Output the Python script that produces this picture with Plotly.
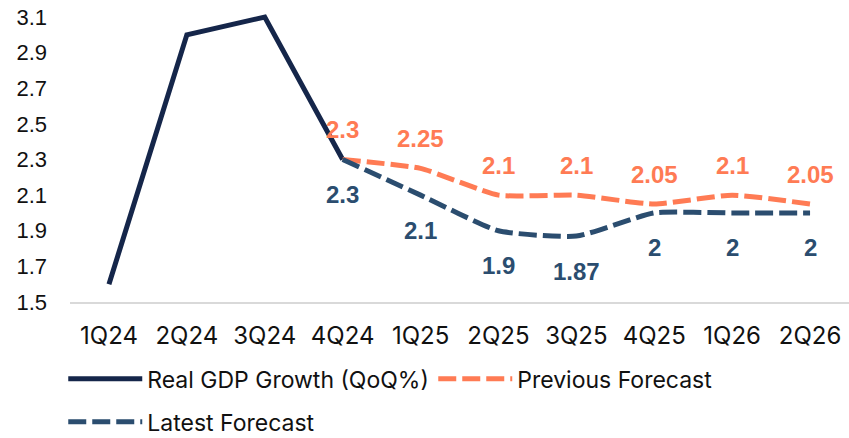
import plotly.graph_objects as go

# Quarters on the x axis
quarters = ["1Q24", "2Q24", "3Q24", "4Q24", "1Q25", "2Q25", "3Q25", "4Q25", "1Q26", "2Q26"]

# Actual real GDP growth (QoQ %)
actual_q = ["1Q24", "2Q24", "3Q24", "4Q24"]
actual_vals = [1.6, 3.0, 3.1, 2.3]

# Forecast paths starting from the last actual quarter
forecast_q = ["4Q24", "1Q25", "2Q25", "3Q25", "4Q25", "1Q26", "2Q26"]
previous_vals = [2.3, 2.25, 2.1, 2.1, 2.05, 2.1, 2.05]
latest_vals = [2.3, 2.1, 1.9, 1.87, 2, 2, 2]

y_ticks = [1.5, 1.7, 1.9, 2.1, 2.3, 2.5, 2.7, 2.9, 3.1]

NAVY = "#15264a"
CORAL = "#ff7b54"
STEEL = "#2b4d6f"
DASH = "18px,6px"

fig = go.Figure()

fig.add_trace(go.Scatter(
    x=actual_q, y=actual_vals, mode="lines", name="Real GDP Growth (QoQ%)",
    line=dict(color=NAVY, width=5), legend="legend",
))
fig.add_trace(go.Scatter(
    x=forecast_q, y=previous_vals, mode="lines", name="Previous Forecast",
    line=dict(color=CORAL, width=5, dash=DASH, shape="spline", smoothing=0.5),
    legend="legend",
))
fig.add_trace(go.Scatter(
    x=forecast_q, y=latest_vals, mode="lines", name="Latest Forecast",
    line=dict(color=STEEL, width=5, dash=DASH, shape="spline", smoothing=0.5),
    legend="legend2",
))

# Value labels: previous forecast above its line, latest forecast below
label_font = dict(family="Liberation Sans, Arial, sans-serif", size=24)
annotations = []
for q, v in zip(forecast_q, previous_vals):
    annotations.append(dict(x=q, y=v, text=f"<b>{v:g}</b>", showarrow=False,
                            yshift=30, font=dict(color=CORAL, **label_font)))
for q, v in zip(forecast_q, latest_vals):
    annotations.append(dict(x=q, y=v, text=f"<b>{v:g}</b>", showarrow=False,
                            yshift=-35, font=dict(color=STEEL, **label_font)))

legend_font = dict(family="Inter, sans-serif", size=23, color="#111111")

fig.update_layout(
    width=849, height=438,
    margin=dict(l=70, r=0, t=14, b=136, autoexpand=False),
    paper_bgcolor="white", plot_bgcolor="white",
    showlegend=True,
    annotations=annotations,
    xaxis=dict(
        type="category", categoryorder="array", categoryarray=quarters,
        range=[-0.5, 9.5], showgrid=False, zeroline=False,
        showline=True, linecolor="#d9d9d9", linewidth=1.5,
        ticks="", ticklabelstandoff=11,
        tickfont=dict(family="Inter, sans-serif", size=24, color="#111111"),
    ),
    yaxis=dict(
        range=[1.5, 3.117], tickvals=y_ticks, ticktext=[f"{t:.1f}" for t in y_ticks],
        showgrid=False, zeroline=False, showline=False, ticks="",
        ticklabelstandoff=22,
        tickfont=dict(family="Liberation Sans, Arial, sans-serif", size=22, color="#111111"),
    ),
    legend=dict(
        orientation="h", xref="container", x=0.0745, xanchor="left",
        yref="container", y=0.184, yanchor="top",
        itemwidth=74, entrywidth=281, font=legend_font, bgcolor="rgba(0,0,0,0)",
        itemclick=False, itemdoubleclick=False,
    ),
    legend2=dict(
        orientation="h", xref="container", x=0.0745, xanchor="left",
        yref="container", y=0.086, yanchor="top",
        itemwidth=74, font=legend_font, bgcolor="rgba(0,0,0,0)",
        itemclick=False, itemdoubleclick=False,
    ),
)

fig.write_html("out.html")
